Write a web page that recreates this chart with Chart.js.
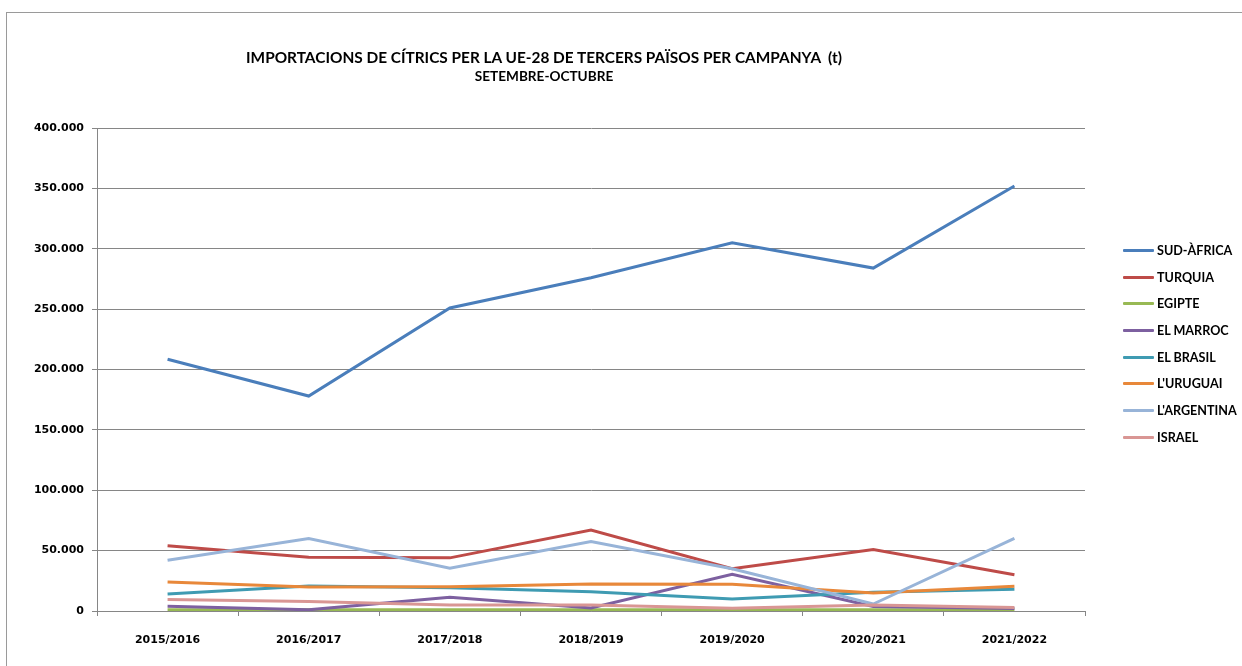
<!DOCTYPE html>
<html>

<head>
    <title>Importacions de cítrics UE-28</title>
    <script src="https://cdn.jsdelivr.net/npm/chart.js"></script>
    <style>
        body {
            margin: 0;
            width: 1242px;
            height: 666px;
            overflow: hidden;
            background: #fff;
            position: relative;
        }

        #frame {
            position: absolute;
            left: 6px;
            top: 12px;
            width: 1260px;
            height: 700px;
            border: 1px solid #9a9a9a;
        }

        #myChart {
            position: absolute;
            left: 0;
            top: 0;
        }

        .title {
            position: absolute;
            left: 224px;
            width: 640px;
            text-align: center;
            font-family: Lato, sans-serif;
            font-weight: bold;
            color: #000;
            white-space: nowrap;
        }

        #legend {
            position: absolute;
            left: 1123px;
            top: 237px;
            font-family: Lato, sans-serif;
            font-weight: bold;
            font-size: 12.6px;
        }

        .item {
            height: 26.7px;
            display: flex;
            align-items: center;
        }

        .swatch {
            width: 31px;
            height: 3px;
            margin-right: 3px;
            border-radius: 1px;
        }
    </style>
</head>

<body>
    <div id="frame"></div>
    <canvas id="myChart" width="1242" height="666"></canvas>
    <div class="title" style="top:48px;font-size:15.4px">IMPORTACIONS DE CÍTRICS PER LA UE-28 DE TERCERS PAÏSOS PER CAMPANYA&nbsp; (t)</div>
    <div class="title" style="top:68px;font-size:13.6px">SETEMBRE-OCTUBRE</div>
    <div id="legend"></div>

    <script>
        // campanyes
        const campaigns = ['2015/2016', '2016/2017', '2017/2018', '2018/2019', '2019/2020', '2020/2021', '2021/2022'];

        // tones per país (llegides del gràfic)
        const sudAfrica = [208500, 178000, 251000, 276000, 305000, 284000, 352000];
        const turquia = [54000, 44500, 44000, 67000, 35000, 51000, 30000];
        const egipte = [1000, 1000, 1000, 1000, 1000, 1000, 1000];
        const elMarroc = [4000, 1000, 11300, 2500, 30500, 3800, 2000];
        const elBrasil = [14000, 20700, 19200, 16000, 10000, 15500, 18000];
        const lUruguai = [24000, 19800, 20000, 22400, 22200, 15000, 20400];
        const lArgentina = [42000, 60000, 35500, 57500, 35000, 5800, 60200];
        const israel = [9500, 7800, 5000, 5000, 2300, 5000, 3000];

        const yTicks = [0, 50000, 100000, 150000, 200000, 250000, 300000, 350000, 400000];

        const seriesNames = ['SUD-ÀFRICA', 'TURQUIA', 'EGIPTE', 'EL MARROC', 'EL BRASIL', "L'URUGUAI", "L'ARGENTINA", 'ISRAEL'];
        const seriesData = [sudAfrica, turquia, egipte, elMarroc, elBrasil, lUruguai, lArgentina, israel];
        const seriesColors = ['#4a7ebb', '#be4b48', '#98b954', '#7d60a0', '#3f9bb2', '#e8883a', '#98b4d8', '#d99694'];

        const gridColor = '#868686';

        const datasets = seriesNames.map((name, i) => ({
            label: name,
            data: seriesData[i],
            borderColor: seriesColors[i],
            backgroundColor: seriesColors[i],
            borderWidth: 3,
            pointRadius: 0,
            tension: 0,
            fill: false,
            order: -i // les sèries posteriors van a sobre, com a Excel
        }));

        const ctx = document.getElementById('myChart').getContext('2d');
        const myChart = new Chart(ctx, {
            type: 'line',
            data: {
                labels: campaigns,
                datasets: datasets
            },
            options: {
                responsive: false,
                animation: false,
                layout: {
                    padding: { top: 128, left: 7, right: 157, bottom: 15 }
                },
                plugins: {
                    legend: { display: false },
                    title: { display: false },
                    tooltip: { enabled: false }
                },
                scales: {
                    x: {
                        offset: true,
                        grid: {
                            offset: true,
                            drawOnChartArea: false,
                            drawTicks: true,
                            tickLength: 5,
                            color: gridColor
                        },
                        border: { display: true, color: gridColor },
                        ticks: {
                            color: '#000',
                            padding: 18,
                            maxRotation: 0,
                            font: { family: 'DejaVu Sans', weight: 'bold', size: 11 }
                        },
                        afterFit: function (scale) { scale.height = 40; }
                    },
                    y: {
                        min: 0,
                        max: 400000,
                        afterBuildTicks: function (scale) {
                            scale.ticks = yTicks.map(v => ({ value: v }));
                        },
                        grid: {
                            color: gridColor,
                            tickLength: 5,
                            drawTicks: true
                        },
                        border: { display: true, color: gridColor },
                        ticks: {
                            color: '#000',
                            padding: 8,
                            font: { family: 'DejaVu Sans', weight: 'bold', size: 11 },
                            callback: function (value) {
                                return String(value).replace(/\B(?=(\d{3})+(?!\d))/g, '.');
                            }
                        },
                        afterFit: function (scale) { scale.width = 90; }
                    }
                }
            }
        });

        // llegenda a la dreta
        const legendEl = document.getElementById('legend');
        seriesNames.forEach((name, i) => {
            const item = document.createElement('div');
            item.className = 'item';
            item.innerHTML = '<span class="swatch" style="background:' + seriesColors[i] + '"></span>' + name;
            legendEl.appendChild(item);
        });
    </script>
</body>

</html>
